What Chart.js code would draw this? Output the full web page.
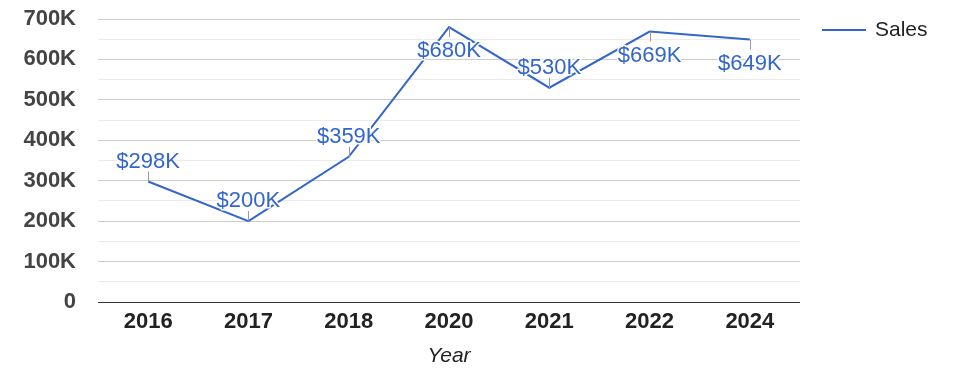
<!DOCTYPE html>
<html>
<head>
<meta charset="utf-8">
<script src="https://cdn.jsdelivr.net/npm/chart.js@4"></script>
<style>
  html, body { margin: 0; padding: 0; background: #fff; }
  #wrap { width: 975px; height: 378px; }
</style>
</head>
<body>
<div id="wrap"><canvas id="ChartCanvas"></canvas></div>
<script>
const years = ['2016', '2017', '2018', '2020', '2021', '2022', '2024'];
const sales = [298000, 200000, 359000, 680000, 530000, 669000, 649000];
const salesLabels = ['$298K', '$200K', '$359K', '$680K', '$530K', '$669K', '$649K'];

const FONT = "Arial, 'Liberation Sans', sans-serif";
const BLUE = '#3366cc';

// annotations with a short stem, above the point unless they would leave the plot
const annotations = {
  id: 'annotations',
  afterDatasetsDraw(chart) {
    const ctx = chart.ctx;
    const meta = chart.getDatasetMeta(0);
    const top = chart.chartArea.top;
    ctx.save();
    ctx.font = '22px ' + FONT;
    ctx.textAlign = 'center';
    ctx.textBaseline = 'alphabetic';
    meta.data.forEach((pt, i) => {
      const below = pt.y - 30 < top;
      const stemEnd = below ? pt.y + 10 : pt.y - 10;
      ctx.strokeStyle = '#999';
      ctx.lineWidth = 1;
      ctx.beginPath();
      ctx.moveTo(Math.round(pt.x) + 0.5, pt.y);
      ctx.lineTo(Math.round(pt.x) + 0.5, stemEnd);
      ctx.stroke();
      const ty = below ? pt.y + 30 : pt.y - 14;
      ctx.strokeStyle = '#fff';
      ctx.lineWidth = 3;
      ctx.lineJoin = 'round';
      ctx.strokeText(salesLabels[i], pt.x, ty);
      ctx.fillStyle = BLUE;
      ctx.fillText(salesLabels[i], pt.x, ty);
    });
    ctx.restore();
  }
};

const sideLegend = {
  id: 'sideLegend',
  afterDraw(chart) {
    const ctx = chart.ctx;
    ctx.save();
    ctx.strokeStyle = BLUE;
    ctx.lineWidth = 2;
    ctx.beginPath();
    ctx.moveTo(822, 30);
    ctx.lineTo(866, 30);
    ctx.stroke();
    ctx.font = '21px ' + FONT;
    ctx.fillStyle = '#222';
    ctx.textBaseline = 'middle';
    ctx.fillText('Sales', 875, 30);
    ctx.restore();
  }
};

function lineChart() {
  const myChart = document.getElementById('ChartCanvas');

  new Chart(myChart, {
    type: 'line',
    data: {
      labels: years,
      datasets: [{
        label: 'Sales',
        data: sales,
        borderColor: BLUE,
        backgroundColor: BLUE,
        borderWidth: 2,
        pointRadius: 0,
        tension: 0
      }]
    },
    options: {
      responsive: true,
      maintainAspectRatio: false,
      animation: false,
      layout: { padding: { top: 19, right: 175, left: 0, bottom: 0 } },
      plugins: {
        legend: { display: false },
        tooltip: { enabled: false }
      },
      scales: {
        x: {
          offset: true,
          grid: { display: false, drawTicks: false },
          border: { display: false },
          ticks: {
            color: '#222',
            padding: 7,
            font: { family: FONT, size: 22, weight: 'bold' }
          },
          title: {
            display: true,
            text: 'Year',
            color: '#222',
            padding: { top: 0, bottom: 9 },
            font: { family: FONT, size: 21, style: 'italic' }
          },
          afterFit(scale) { scale.height = 76; }
        },
        y: {
          min: 0,
          max: 700000,
          grid: {
            drawTicks: false,
            color(c) {
              const v = c.tick.value;
              if (v === 0) return '#333';
              return v % 100000 === 0 ? '#cccccc' : '#ebebeb';
            }
          },
          border: { display: false },
          ticks: {
            stepSize: 50000,
            autoSkip: false,
            color: '#444',
            padding: 22,
            font: { family: FONT, size: 22, weight: 'bold' },
            callback(v) {
              if (v % 100000 !== 0) return '';
              return v === 0 ? '0' : (v / 1000) + 'K';
            }
          },
          afterFit(scale) {
            scale.width = 98;
            scale.paddingTop = 0;
            scale.paddingBottom = 0;
          }
        }
      }
    },
    plugins: [annotations, sideLegend]
  });
}

document.addEventListener('DOMContentLoaded', () => {
  lineChart();
});
</script>
</body>
</html>
